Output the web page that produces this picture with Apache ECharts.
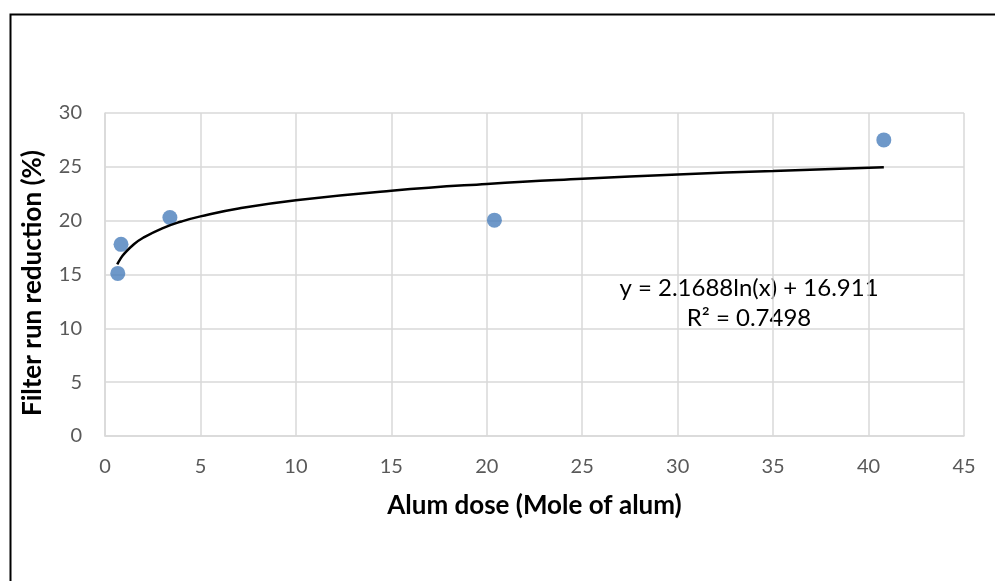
<!DOCTYPE html>
<html>
<head>
<meta charset="utf-8">
<script src="https://cdn.jsdelivr.net/npm/echarts@6/dist/echarts.min.js"></script>
<style>
html,body{margin:0;padding:0;background:#fff;}
#chart{width:995px;height:581px;}
</style>
</head>
<body>
<div id="chart"></div>
<script>
// Data
var doseX = [0.67, 0.84, 3.4, 20.4, 40.8];
var reductionY = [15.1, 17.8, 20.3, 20.05, 27.5];
// Trendline points
var trendX = [0.64, 0.8, 1, 1.5, 2, 3, 4, 5, 7, 10, 15, 20, 25, 30, 35, 40.8];
var trendY = [15.94, 16.43, 16.91, 17.79, 18.41, 19.29, 19.92, 20.40, 21.13, 21.90, 22.78, 23.41, 23.89, 24.29, 24.62, 24.95];
var equationText = 'y = 2.1688ln(x) + 16.911';
var r2Text = 'R² = 0.7498';
var xTitle = 'Alum dose (Mole of alum)';
var yTitle = 'Filter run reduction (%)';

var font = 'Lato, "Open Sans", sans-serif';
var chart = echarts.init(document.getElementById('chart'));
var pts = doseX.map(function (x, i) { return [x, reductionY[i]]; });
var trend = trendX.map(function (x, i) { return [x, trendY[i]]; });

chart.setOption({
  animation: false,
  backgroundColor: '#fff',
  grid: { left: 105, right: 31, top: 113, bottom: 145 },
  xAxis: {
    type: 'value', min: 0, max: 45, interval: 5,
    name: xTitle, nameLocation: 'middle', nameGap: 57,
    nameTextStyle: { fontFamily: font, fontSize: 26, fontWeight: 'bold', color: '#000' },
    axisLine: { show: true, lineStyle: { color: '#d9d9d9', width: 1.5 } },
    axisTick: { show: false },
    axisLabel: { fontFamily: font, fontSize: 20, color: '#595959', margin: 21 },
    splitLine: { show: true, lineStyle: { color: '#d9d9d9', width: 1.5 } }
  },
  yAxis: {
    type: 'value', min: 0, max: 30, interval: 5,
    axisLine: { show: true, lineStyle: { color: '#d9d9d9', width: 1.5 } },
    axisTick: { show: false },
    axisLabel: { fontFamily: font, fontSize: 20, color: '#595959', margin: 23 },
    splitLine: { show: true, lineStyle: { color: '#d9d9d9', width: 1.5 } }
  },
  graphic: [
    { type: 'rect', left: 8, top: 12, shape: { width: 1200, height: 800 },
      style: { fill: 'none', stroke: '#000', lineWidth: 2 }, silent: true },
    { type: 'text', x: 33, y: 283, rotation: Math.PI / 2,
      style: { text: yTitle, fontFamily: font, fontSize: 26, fontWeight: 'bold', fill: '#000',
               align: 'center', verticalAlign: 'middle' } },
    { type: 'text', x: 749, y: 288,
      style: { text: equationText, fontFamily: font, fontSize: 24, fill: '#000',
               align: 'center', verticalAlign: 'middle' } },
    { type: 'text', x: 749, y: 318,
      style: { text: r2Text, fontFamily: font, fontSize: 24, fill: '#000',
               align: 'center', verticalAlign: 'middle' } }
  ],
  series: [
    {
      type: 'scatter', data: pts, symbolSize: 15,
      itemStyle: { color: '#4a7ebb' }, z: 2
    },
    {
      type: 'line', data: trend, smooth: true, showSymbol: false,
      lineStyle: { color: '#000', width: 2.5 }, z: 3
    }
  ]
});
</script>
</body>
</html>
